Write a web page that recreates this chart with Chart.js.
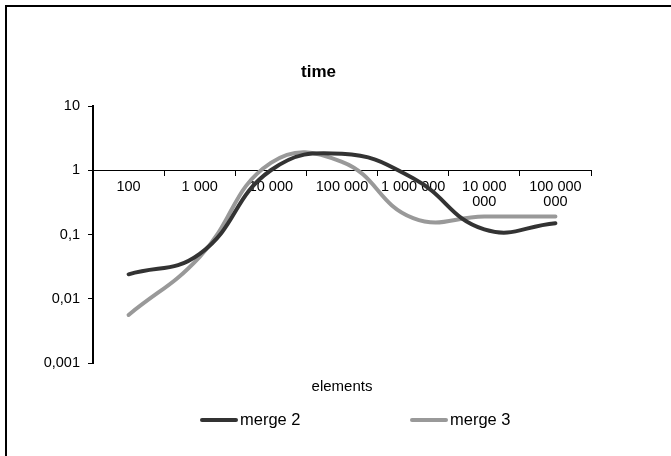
<!DOCTYPE html>
<html>
<head>
<meta charset="utf-8">
<script src="https://cdn.jsdelivr.net/npm/chart.js@4.4.0/dist/chart.umd.min.js"></script>
<style>
    body { margin: 0; background: #fff; font-family: 'Liberation Sans', Arial, sans-serif; }
    #frame {
        position: absolute; left: 5px; top: 5px; width: 700px; height: 500px;
        border-left: 2px solid #000; border-top: 2px solid #000;
        pointer-events: none;
    }
    canvas { position: absolute; left: 0; top: 0; }
    #legend { position: absolute; left: 200px; top: 409px; height: 20px; }
    .item { position: absolute; top: 0; white-space: nowrap; font-size: 16.5px; line-height: 20px; color: #000; }
    .item span.bar { display: inline-block; width: 38px; height: 4px; border-radius: 2px; vertical-align: middle; margin-right: 2px; position: relative; top: -1px; }
</style>
</head>
<body>
<canvas id="time-chart" width="671" height="456"></canvas>
<div id="frame"></div>
<div id="legend"></div>
<script>
// x categories (number of elements), as printed under the axis
var elements = ['100', '1 000', '10 000', '100 000', '1 000 000', ['10 000', '000'], ['100 000', '000']];
var merge2 = [0.024, 0.05, 1.0, 1.8, 0.75, 0.12, 0.15];
var merge3 = [0.0056, 0.045, 1.3, 1.35, 0.18, 0.19, 0.19];
var yTicks = [0.001, 0.01, 0.1, 1, 10];
var yTickLabels = ['0,001', '0,01', '0,1', '1', '10'];

var font = 'Liberation Sans, Arial, sans-serif';

const ctx = document.getElementById('time-chart');

var timeChart = new Chart(ctx, {
    type: 'line',
    data: {
        labels: elements,
        datasets: [{
            label: 'merge 2',
            data: merge2,
            borderColor: '#333333',
            backgroundColor: '#333333'
        }, {
            label: 'merge 3',
            data: merge3,
            borderColor: '#999999',
            backgroundColor: '#999999'
        }]
    },
    options: {
        responsive: false,
        animation: false,
        layout: {
            padding: { left: 0, right: 34, top: 62, bottom: 60 }
        },
        elements: {
            line: { borderWidth: 4, tension: 0.45, borderCapStyle: 'round' },
            point: { radius: 0 }
        },
        plugins: {
            tooltip: { enabled: false },
            legend: { display: false },
            title: {
                display: true,
                text: 'time',
                color: '#000',
                font: { family: font, size: 17, weight: 'bold' },
                padding: { top: 0, bottom: 23.6 }
            },
            subtitle: {
                display: true,
                text: 'elements',
                position: 'bottom',
                fullSize: false,
                color: '#000',
                font: { family: font, size: 15 },
                padding: { top: 15, bottom: 0 }
            }
        },
        scales: {
            x: {
                type: 'category',
                position: { y: 1 },
                offset: true,
                border: { color: '#000', width: 1 },
                grid: {
                    drawOnChartArea: false,
                    offset: true,
                    color: '#000',
                    tickLength: 5
                },
                ticks: {
                    color: '#000',
                    font: { family: font, size: 14.5, lineHeight: 1.05 },
                    maxRotation: 0,
                    autoSkip: false,
                    padding: 4
                }
            },
            y: {
                type: 'logarithmic',
                position: 'left',
                min: 0.001,
                max: 10,
                border: { color: '#000', width: 2 },
                grid: {
                    drawOnChartArea: false,
                    color: '#000',
                    tickLength: 5
                },
                ticks: {
                    color: '#000',
                    font: { family: font, size: 14.5 },
                    padding: 8,
                    callback: function (value) {
                        var i = yTicks.indexOf(value);
                        return i < 0 ? '' : yTickLabels[i];
                    }
                },
                afterBuildTicks: function (scale) {
                    scale.ticks = yTicks.map(function (v) { return { value: v }; });
                },
                afterFit: function (scale) {
                    scale.width = 93;
                }
            },
            // empty right-hand margin so the plot ends where the original does
            yRight: {
                type: 'linear',
                position: 'right',
                grid: { display: false },
                border: { display: false },
                ticks: { display: false },
                afterFit: function (scale) {
                    scale.width = 46;
                }
            }
        }
    }
});

// legend below the axis title, one entry per series
var legendOffsets = [0, 210];
timeChart.data.datasets.forEach(function (ds, i) {
    var item = document.createElement('div');
    item.className = 'item';
    item.style.left = legendOffsets[i] + 'px';
    var bar = document.createElement('span');
    bar.className = 'bar';
    bar.style.background = ds.borderColor;
    item.appendChild(bar);
    item.appendChild(document.createTextNode(ds.label));
    document.getElementById('legend').appendChild(item);
});
</script>
</body>
</html>
